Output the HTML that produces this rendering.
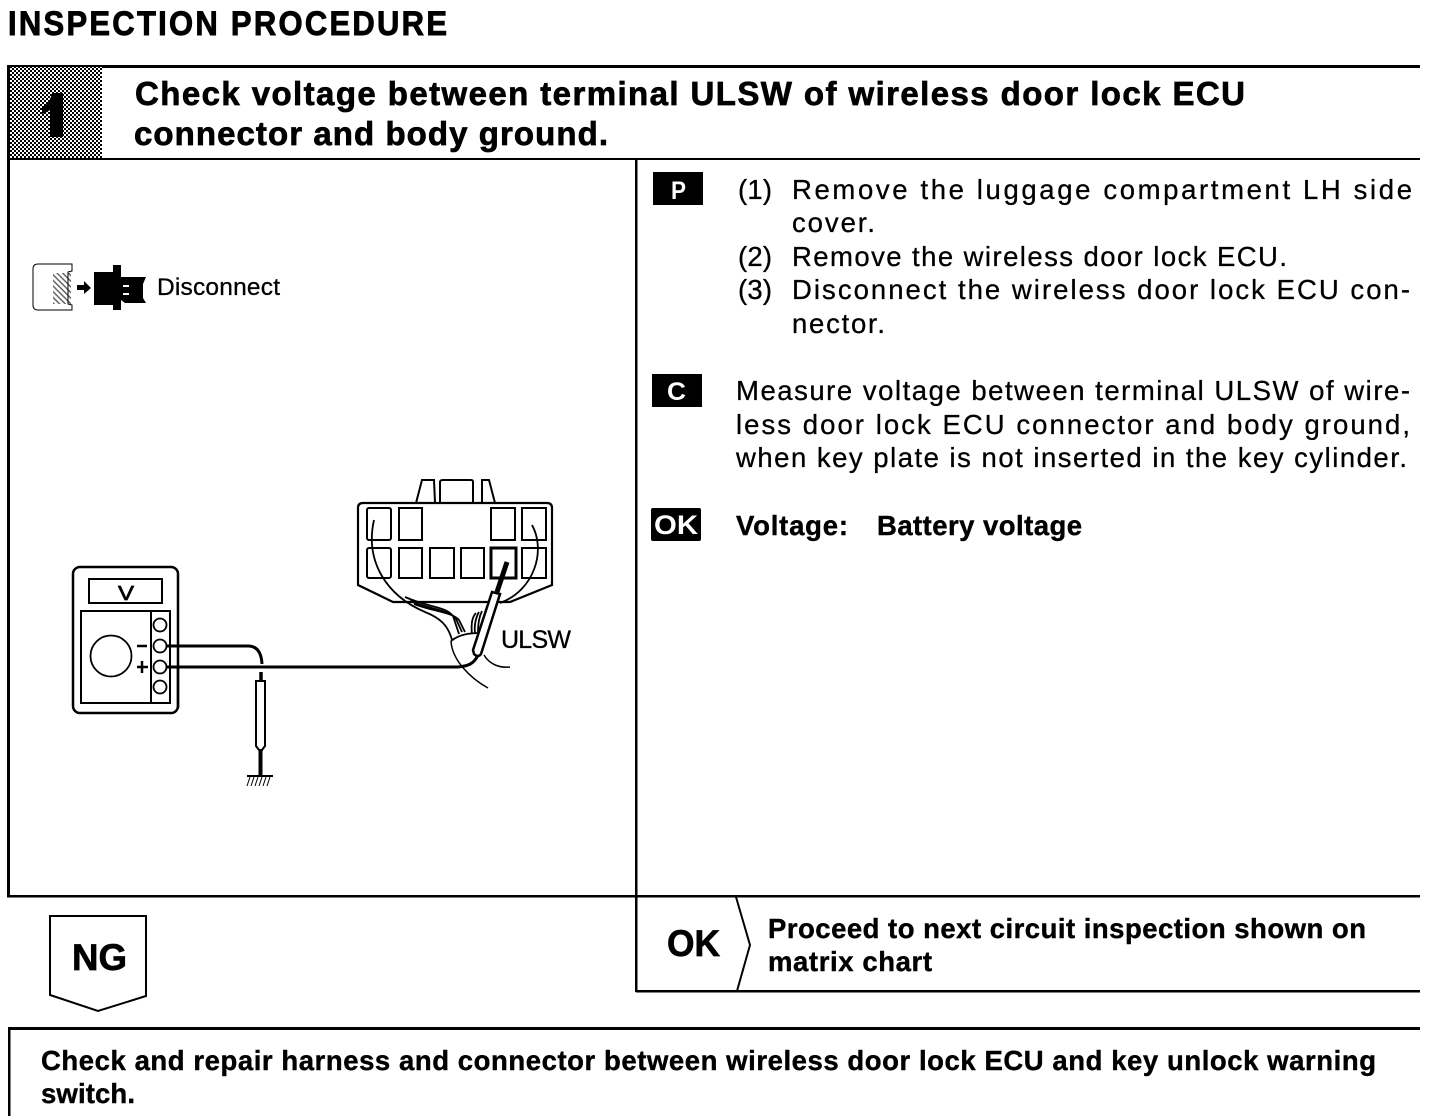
<!DOCTYPE html>
<html><head><meta charset="utf-8"><style>
html,body{margin:0;padding:0;background:#fff}
svg{display:block}
text{font-family:"Liberation Sans",sans-serif;fill:#000}
.b{font-weight:bold}
.h{font-size:33px;font-weight:bold;stroke:#000;stroke-width:.7px}
.r{font-size:27.500px;stroke:#000;stroke-width:.3px}
.m{font-size:27.500px;font-weight:bold;stroke:#000;stroke-width:.4px}
</style></head><body>
<svg width="1440" height="1116" viewBox="0 0 1440 1116" xmlns="http://www.w3.org/2000/svg">
<defs>
<pattern id="ht" width="4" height="4" patternUnits="userSpaceOnUse">
<rect width="4" height="4" fill="#fff"/>
<rect width="2" height="2" fill="#000"/><rect x="2" y="2" width="2" height="2" fill="#000"/>
</pattern>
<pattern id="h2" width="4" height="4" patternUnits="userSpaceOnUse" patternTransform="rotate(45)">
<rect width="4" height="1.500" fill="#000"/>
</pattern>
</defs>
<rect width="1440" height="1116" fill="#fff"/>

<text transform="translate(8,35) scale(1,1.1)" class="b" font-size="31" stroke="#000" stroke-width=".8" textLength="439" lengthAdjust="spacing">INSPECTION PROCEDURE</text>

<!-- main frame -->
<rect x="7" y="65" width="1413" height="3" fill="#000"/>
<rect x="7" y="65" width="3" height="832" fill="#000"/>
<rect x="7" y="158" width="1413" height="2" fill="#000"/>
<rect x="7" y="895" width="1413" height="2.500" fill="#000"/>
<rect x="635" y="158" width="2.500" height="834" fill="#000"/>
<rect x="636" y="990" width="784" height="2.500" fill="#000"/>

<!-- number block -->
<rect x="10" y="67" width="92" height="91" fill="url(#ht)"/>
<path d="M42 107 Q50 104 52 93 H63 V137 H50 V110 Q46 113 42 114Z" fill="#000"/>

<text x="135" y="105" class="h" textLength="1110" lengthAdjust="spacing">Check voltage between terminal ULSW of wireless door lock ECU</text>
<text x="134" y="145" class="h" textLength="474" lengthAdjust="spacing">connector and body ground.</text>

<!-- disconnect icon -->
<path d="M72 264 H38 Q33 264 33 269 V305 Q33 310 38 310 H72 V305 L68 304 V272 L72 271Z" fill="#fff" stroke="#000" stroke-width="1"/>
<rect x="53" y="273" width="18" height="31" fill="url(#h2)" opacity=".6"/>
<path d="M77 285 H84 V281 L91 288 L84 294 V290 H77Z" fill="#000"/>
<path d="M94 272 H113 V265 H121 V310 H113 V305 H94Z" fill="#000"/>
<path d="M121 277 H146 L143 284 V298 L146 303 H125 L121 300Z" fill="#000"/>
<rect x="123" y="285" width="6" height="2" fill="#fff"/><rect x="123" y="293" width="6" height="2" fill="#fff"/>
<text x="157" y="295" font-size="24.500" stroke="#000" stroke-width=".3" textLength="123" lengthAdjust="spacing">Disconnect</text>

<!-- connector -->
<g fill="none" stroke="#000" stroke-width="2">
<path d="M363 503 H547 Q552 503 552 508 V585 L510 602 H393 L358 585 V508 Q358 503 363 503Z" stroke-width="2.200"/>
<path d="M416 503 L422 480 H434 L435 503"/>
<path d="M440 503 V482 Q440 480 443 480 H471 Q473 480 473 482 V503"/>
<path d="M482 503 V480 H489 L495 503"/>
<rect x="367" y="508" width="24" height="32" rx="2"/>
<rect x="399" y="508" width="23" height="32"/>
<rect x="491" y="508" width="24" height="32"/>
<rect x="522" y="508" width="24" height="32"/>
<rect x="367" y="548" width="24" height="30" rx="2"/>
<rect x="399" y="548" width="23" height="30"/>
<rect x="430" y="548" width="24" height="30"/>
<rect x="461" y="548" width="23" height="30"/>
<rect x="491" y="548" width="25" height="30" stroke-width="3"/>
<rect x="522" y="548" width="24" height="30"/>
</g>
<!-- wires -->
<g fill="none" stroke="#000" stroke-width="1.800">
<path d="M374 520 C365 560 385 595 425 612 C440 618 448 625 452 640"/>
<path d="M532 525 C546 550 535 590 500 603"/>
<path d="M405 597 C430 608 445 606 453 616 L459 634"/>
<path d="M410 601 C432 610 450 610 456 619 L462 632"/>
<path d="M414 604 C435 612 452 612 459 620 L465 632"/>
<path d="M476 613 C472 617 471 625 472 634 M479 612 C476 617 474 625 475 633 M482 611 C479 617 478 625 478 632"/>
<path d="M451 641 C460 634 470 633 481 633"/>
<path d="M451 641 C452 660 470 678 488 688" stroke-width="1.500"/>
<path d="M484 655 C490 665 500 668 510 667" stroke-width="1.500"/>
</g>
<!-- probe -->
<path d="M507 562 L497 592" stroke="#000" stroke-width="5" fill="none"/>
<path d="M492 592 L500 594 L481 654 Q478 658 474 654 L473 650Z" fill="#fff" stroke="#000" stroke-width="2.500"/>
<path d="M478 655 C474 664 468 666 458 667" fill="none" stroke="#000" stroke-width="3"/>

<text x="501" y="648" font-size="25" stroke="#000" stroke-width=".3" textLength="70" lengthAdjust="spacing">ULSW</text>

<!-- meter -->
<g fill="none" stroke="#000">
<rect x="73" y="567" width="105" height="146" rx="7" stroke-width="2.500"/>
<rect x="89" y="579" width="73" height="24" stroke-width="2"/>
<rect x="81" y="611" width="89" height="92" stroke-width="2"/>
<path d="M151 611 V703" stroke-width="2"/>
<circle cx="111" cy="656" r="20.500" stroke-width="1.800"/>
<circle cx="160" cy="625" r="6.500" stroke-width="1.800"/>
<circle cx="160" cy="646" r="6.500" stroke-width="1.800"/>
<circle cx="160" cy="667" r="6.500" stroke-width="1.800"/>
<circle cx="160" cy="687" r="6.500" stroke-width="1.800"/>
<path d="M137 646 H147" stroke-width="2.500"/>
<path d="M137 667 H148 M142 661 V673" stroke-width="2.500"/>
<path d="M167 646 H248 Q261 646 262 664" stroke-width="3"/>
<path d="M167 667 H458" stroke-width="3"/>
<path d="M178 668 V708" stroke-width="2.500"/>
<path d="M261 672 V681" stroke-width="3.500"/>
<path d="M256 681 H265 L265 746 L262 750 H259 L256 746Z" stroke-width="2" fill="#fff"/>
<path d="M260.500 750 V776" stroke-width="4"/>
<path d="M247 776 H273" stroke-width="2"/>
<path d="M250 777 L247 786 M254 777 L251 786 M258 777 L255 786 M262 777 L259 786 M266 777 L263 786 M270 777 L267 786" stroke-width="1"/>
</g>
<text x="118" y="600" font-size="20" stroke="#000" stroke-width=".7" textLength="16" lengthAdjust="spacingAndGlyphs">V</text>

<!-- badges -->
<rect x="653" y="172" width="50" height="33" fill="#000"/>
<text x="671" y="199" font-size="25" font-weight="bold" textLength="15" lengthAdjust="spacingAndGlyphs" style="fill:#fff">P</text>
<rect x="652" y="374" width="50" height="33" fill="#000"/>
<text x="667" y="400" font-size="25" font-weight="bold" textLength="19" lengthAdjust="spacingAndGlyphs" style="fill:#fff">C</text>
<rect x="651" y="508" width="50" height="33" rx="2" fill="#000"/>
<text x="654" y="534" font-size="27" font-weight="bold" textLength="44" lengthAdjust="spacingAndGlyphs" style="fill:#fff">OK</text>

<!-- right text -->
<text x="738" y="199" class="r" textLength="34" lengthAdjust="spacing">(1)</text>
<text x="792" y="199" class="r" textLength="620" lengthAdjust="spacing">Remove the luggage compartment LH side</text>
<text x="792" y="232" class="r" textLength="83" lengthAdjust="spacing">cover.</text>
<text x="738" y="266" class="r" textLength="34" lengthAdjust="spacing">(2)</text>
<text x="792" y="266" class="r" textLength="495" lengthAdjust="spacing">Remove the wireless door lock ECU.</text>
<text x="738" y="299" class="r" textLength="34" lengthAdjust="spacing">(3)</text>
<text x="792" y="299" class="r" textLength="618" lengthAdjust="spacing">Disconnect the wireless door lock ECU con-</text>
<text x="792" y="333" class="r" textLength="93" lengthAdjust="spacing">nector.</text>
<text x="736" y="400" class="r" textLength="674" lengthAdjust="spacing">Measure voltage between terminal ULSW of wire-</text>
<text x="736" y="434" class="r" textLength="674" lengthAdjust="spacing">less door lock ECU connector and body ground,</text>
<text x="736" y="467" class="r" textLength="671" lengthAdjust="spacing">when key plate is not inserted in the key cylinder.</text>
<text x="736" y="535" class="m" textLength="112" lengthAdjust="spacing">Voltage:</text>
<text x="877" y="535" class="m" textLength="205" lengthAdjust="spacing">Battery voltage</text>

<!-- NG -->
<path d="M50 916 H146 V996 L98 1011 L50 995Z" fill="#fff" stroke="#000" stroke-width="2"/>
<text x="72" y="970" class="b" font-size="37" stroke="#000" stroke-width=".7" textLength="55" lengthAdjust="spacingAndGlyphs">NG</text>

<!-- OK -->
<path d="M736 897 L750 945 L737 991" fill="none" stroke="#000" stroke-width="2"/>
<text x="667" y="956" class="b" font-size="37" stroke="#000" stroke-width=".7" textLength="53" lengthAdjust="spacingAndGlyphs">OK</text>
<text x="768" y="938" class="m" textLength="598" lengthAdjust="spacing">Proceed to next circuit inspection shown on</text>
<text x="768" y="971" class="m" textLength="164" lengthAdjust="spacing">matrix chart</text>

<!-- bottom box -->
<rect x="8" y="1027" width="1412" height="3" fill="#000"/>
<rect x="8" y="1027" width="2.500" height="89" fill="#000"/>
<text x="41" y="1070" class="m" textLength="1335" lengthAdjust="spacing">Check and repair harness and connector between wireless door lock ECU and key unlock warning</text>
<text x="41" y="1103" class="m" textLength="94" lengthAdjust="spacing">switch.</text>
</svg>
</body></html>
